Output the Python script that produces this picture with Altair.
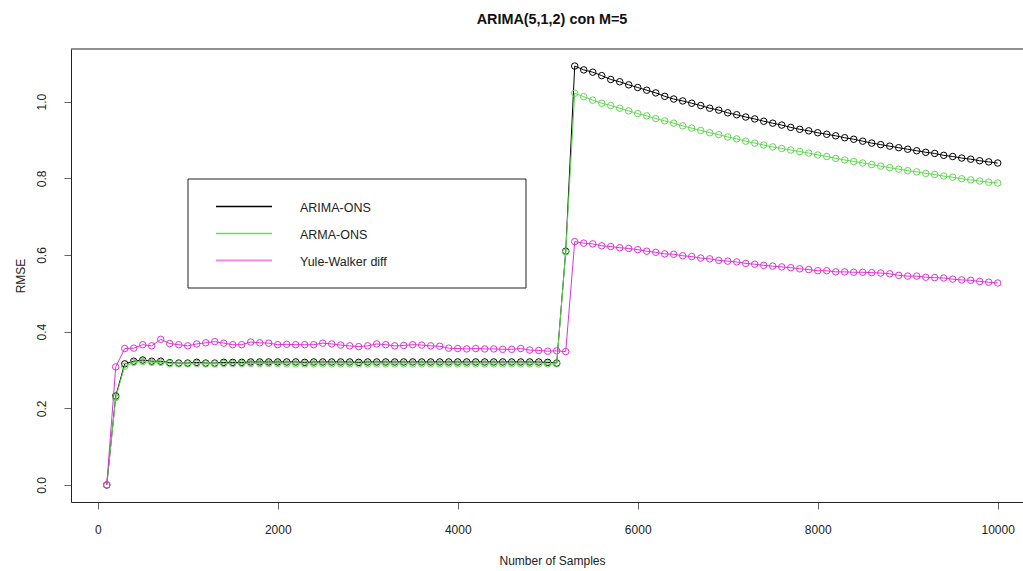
import altair as alt
import pandas as pd

# ---------------- data ----------------
samples = list(range(100, 10100, 100))

arima_ons = [
    0.000, 0.232, 0.316, 0.323, 0.326, 0.323, 0.323, 0.319, 0.318, 0.318,
    0.320, 0.318, 0.318, 0.320, 0.320, 0.320, 0.321, 0.321, 0.321, 0.321,
    0.321, 0.321, 0.320, 0.321, 0.321, 0.321, 0.321, 0.321, 0.320, 0.321,
    0.321, 0.321, 0.321, 0.321, 0.321, 0.321, 0.321, 0.321, 0.321, 0.321,
    0.321, 0.321, 0.321, 0.321, 0.321, 0.321, 0.321, 0.321, 0.321, 0.320,
    0.318, 0.610,
    1.093, 1.083, 1.077, 1.068, 1.058, 1.052, 1.044, 1.037, 1.030, 1.023,
    1.014, 1.007, 1.002, 0.996, 0.990, 0.983, 0.978, 0.971, 0.966, 0.960,
    0.955, 0.949, 0.944, 0.939, 0.933, 0.928, 0.924, 0.919, 0.915, 0.911,
    0.906, 0.902, 0.897, 0.892, 0.888, 0.884, 0.880, 0.876, 0.872, 0.868,
    0.865, 0.860, 0.857, 0.853, 0.850, 0.846, 0.843, 0.840,
]

arma_ons = [
    0.000, 0.228, 0.310, 0.320, 0.322, 0.320, 0.320, 0.317, 0.316, 0.316,
    0.317, 0.316, 0.316, 0.317, 0.317, 0.317, 0.317, 0.317, 0.317, 0.317,
    0.316, 0.316, 0.316, 0.316, 0.316, 0.316, 0.316, 0.316, 0.316, 0.316,
    0.316, 0.316, 0.316, 0.316, 0.316, 0.316, 0.316, 0.316, 0.316, 0.316,
    0.316, 0.316, 0.316, 0.316, 0.316, 0.316, 0.316, 0.316, 0.316, 0.316,
    0.316, 0.608,
    1.022, 1.013, 1.004, 0.996, 0.990, 0.983, 0.976, 0.969, 0.963, 0.956,
    0.950, 0.944, 0.937, 0.931, 0.925, 0.919, 0.914, 0.908, 0.903, 0.897,
    0.892, 0.887, 0.882, 0.878, 0.874, 0.870, 0.866, 0.861, 0.857, 0.852,
    0.848, 0.844, 0.840, 0.836, 0.832, 0.828, 0.824, 0.820, 0.817, 0.813,
    0.810, 0.806, 0.803, 0.799, 0.796, 0.793, 0.790, 0.788,
]

yule_walker_diff = [
    0.000, 0.308, 0.356, 0.357, 0.366, 0.363, 0.380, 0.369, 0.366, 0.363,
    0.368, 0.371, 0.374, 0.370, 0.366, 0.366, 0.373, 0.371, 0.370, 0.366,
    0.367, 0.366, 0.366, 0.366, 0.370, 0.368, 0.365, 0.363, 0.361, 0.363,
    0.368, 0.366, 0.363, 0.364, 0.366, 0.365, 0.363, 0.362, 0.357, 0.356,
    0.355, 0.356, 0.355, 0.355, 0.354, 0.354, 0.356, 0.352, 0.351, 0.349,
    0.350, 0.348,
    0.635, 0.631, 0.629, 0.624, 0.622, 0.619, 0.617, 0.614, 0.610, 0.607,
    0.603, 0.602, 0.598, 0.596, 0.592, 0.590, 0.586, 0.584, 0.582, 0.578,
    0.576, 0.573, 0.571, 0.569, 0.567, 0.564, 0.562, 0.559, 0.559, 0.556,
    0.556, 0.555, 0.555, 0.554, 0.553, 0.551, 0.547, 0.545, 0.545, 0.542,
    0.541, 0.540, 0.537, 0.535, 0.534, 0.531, 0.529, 0.527,
]

series_names = ["ARIMA-ONS", "ARMA-ONS", "Yule-Walker diff"]
series_values = [arima_ons, arma_ons, yule_walker_diff]
series_colors = ["#000000", "#5fd850", "#e030dc"]
legend_colors = ["#000000", "#66dd55", "#ee88e8"]

x_ticks = [0, 2000, 4000, 6000, 8000, 10000]
y_ticks = [0.0, 0.2, 0.4, 0.6, 0.8, 1.0]

for v in series_values:
    assert len(v) == len(samples)

# ---------------- layout ----------------
W, H = 952, 453
FONT = "Liberation Sans"

x_scale = alt.Scale(domain=[-297, 10281], nice=False, zero=False)
y_scale = alt.Scale(domain=[-0.0444, 1.1375], nice=False, zero=False)

x_axis = alt.Axis(
    values=x_ticks, format="d", tickSize=7, labelPadding=24,
    labelBaseline="alphabetic", labelFlush=False, grid=False,
    title="Number of Samples", titleX=481, titleY=62,
    titleAlign="center", titleBaseline="alphabetic",
    domain=True, ticks=True, labels=True,
    labelFont=FONT, labelFontSize=12, labelColor="#222",
    titleFont=FONT, titleFontSize=12, titleFontWeight="normal", titleColor="#222",
    domainColor="#222", tickColor="#666",
)
y_axis = alt.Axis(
    values=y_ticks, format=".1f", tickSize=7, labelAngle=270,
    labelAlign="center", labelBaseline="alphabetic", labelPadding=19,
    labelFlush=False, grid=False,
    title="RMSE", titleX=-51, titleY=226.5, titleAngle=270,
    titleAlign="center", titleBaseline="middle",
    domain=True, ticks=True, labels=True,
    labelFont=FONT, labelFontSize=12, labelColor="#222",
    titleFont=FONT, titleFontSize=12, titleFontWeight="normal", titleColor="#222",
    domainColor="#222", tickColor="#666",
)

enc_x = alt.X("samples:Q", scale=x_scale, axis=x_axis)
enc_y = alt.Y("rmse:Q", scale=y_scale, axis=y_axis)

layers = []
for name, vals, col in zip(series_names, series_values, series_colors):
    df = pd.DataFrame({"samples": samples, "rmse": vals})
    base = alt.Chart(df)
    line = base.mark_line(color=col, strokeWidth=1).encode(x=enc_x, y=enc_y)
    pts = base.mark_point(shape="circle", filled=False, color=col, size=42,
                          strokeWidth=1, opacity=1).encode(x=enc_x, y=enc_y)
    layers += [line, pts]

one = alt.Chart(pd.DataFrame({"k": [0]}))

# top border of the plot box
top_border = one.mark_rule(color="#222", strokeWidth=1).encode(
    x=alt.value(0), x2=alt.value(W), y=alt.value(0))

# legend
legend_box = one.mark_rect(fill="white", stroke="#222", strokeWidth=1).encode(
    x=alt.value(117), x2=alt.value(455), y=alt.value(130), y2=alt.value(239))
layers += [top_border, legend_box]
for i, (name, col) in enumerate(zip(series_names, legend_colors)):
    yy = 157.5 + 27 * i
    layers.append(one.mark_rule(color=col, strokeWidth=1.3 if i < 2 else 2).encode(
        x=alt.value(145), x2=alt.value(201), y=alt.value(yy)))
    layers.append(one.mark_text(text=name, align="left", baseline="middle",
                                font=FONT, fontSize=12.5, color="#222").encode(
        x=alt.value(229), y=alt.value(yy + 1)))

chart = alt.layer(*layers).properties(
    width=W, height=H,
    background="white",
    autosize=alt.AutoSizeParams(type="none"),
    padding={"left": 71, "top": 49, "right": 0, "bottom": 69},
    title=alt.TitleParams(
        "ARIMA(5,1,2) con M=5", anchor="middle", fontSize=14.4,
        fontWeight="bold", font=FONT, color="#111", dx=5,
        baseline="bottom", offset=7,
    ),
).configure_view(strokeWidth=0).configure_axis(
    domainColor="#222", domainWidth=1, tickColor="#666", tickWidth=1,
    labelColor="#222", labelFont=FONT, labelFontSize=12,
    titleColor="#222", titleFont=FONT, titleFontSize=12, titleFontWeight="normal",
)

chart.save("out.html", embed_options={"renderer": "svg", "actions": False})
